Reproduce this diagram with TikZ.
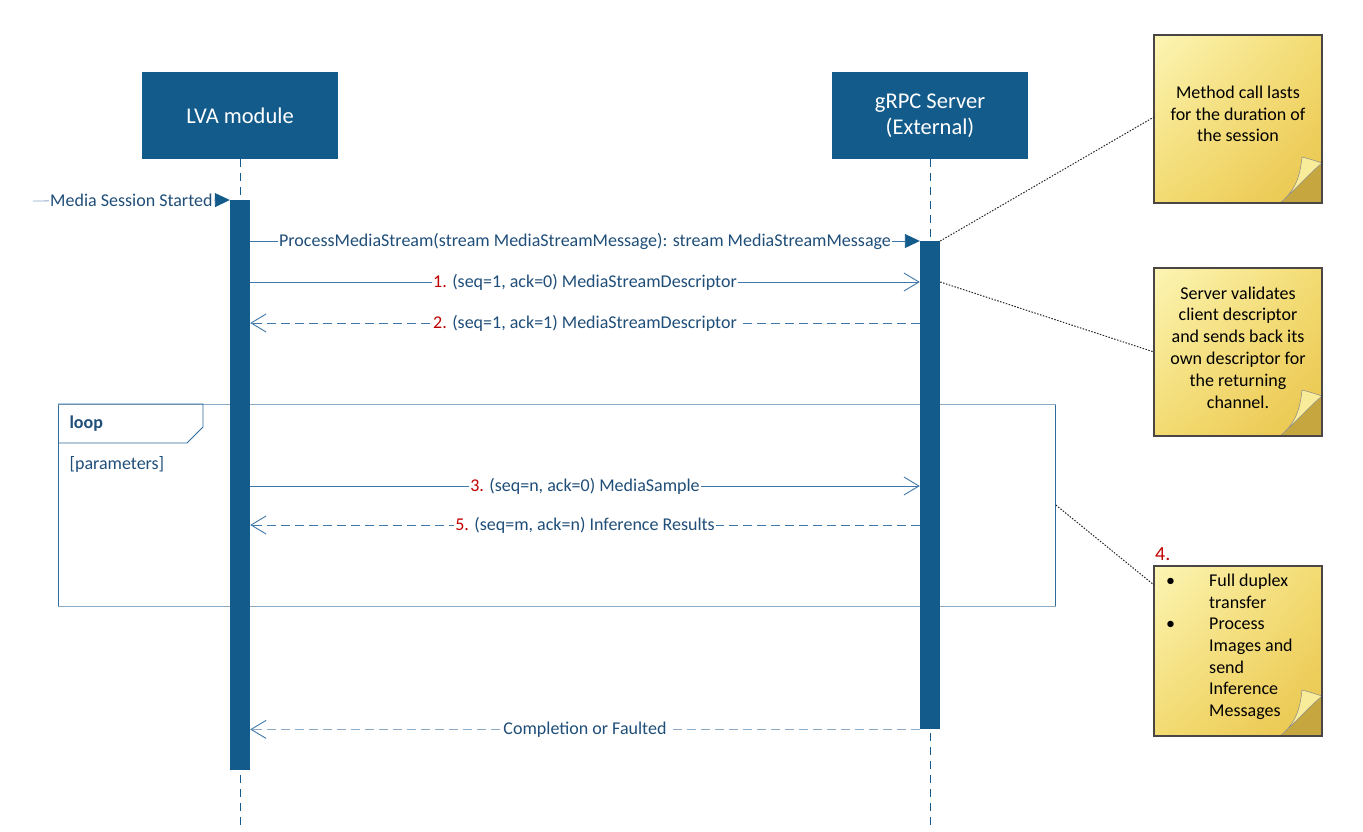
\documentclass[tikz,border=0pt]{standalone}
\usepackage{fontspec}
\setmainfont{Carlito}
\usetikzlibrary{arrows.meta,shadings}
\definecolor{hdr}{HTML}{135B8B}
\definecolor{msgtxt}{HTML}{1F4E79}
\definecolor{msgline}{HTML}{3F78A8}
\definecolor{lightline}{HTML}{8AAAC6}
\definecolor{numred}{HTML}{C00000}
\definecolor{notebd}{HTML}{4A4646}
\definecolor{framecol}{HTML}{2E6C9C}
\definecolor{noteA}{HTML}{FCF5B4}
\definecolor{noteB}{HTML}{E9C44A}
\definecolor{noteC}{HTML}{F3DB72}
\tikzset{
  header/.style={fill=hdr, text=white, minimum width=196pt, minimum height=87pt, inner sep=0pt, align=center, font=\fontsize{22.5}{26}\selectfont},
  lifeline/.style={draw=hdr, line width=0.9pt, dash pattern=on 8pt off 6pt},
  actbar/.style={fill=hdr, minimum width=20pt, inner sep=0pt},
  msg/.style={draw=msgline, line width=0.9pt},
  retmsg/.style={draw=msgline, line width=0.9pt, dash pattern=on 9pt off 5pt},
  lbl/.style={fill=white, text=msgtxt, inner sep=1.5pt, font=\fontsize{18}{21}\selectfont},
  opentip/.style={-{Straight Barb[length=15pt,width=18pt,line width=0.9pt]}},
  conn/.style={draw=black!85, line width=1pt, dash pattern=on 1.5pt off 1.5pt},
  notebox/.style={draw=notebd, line width=2pt, minimum width=168pt, inner sep=0pt, outer sep=0pt,
    path picture={
      \shade[upper left=noteA, lower right=noteB, upper right=noteC, lower left=noteC]
        (path picture bounding box.north west) rectangle (path picture bounding box.south east);
    }},
  notetext/.style={text=black, font=\fontsize{18}{21.8}\selectfont, align=center, inner sep=0pt},
  curlshadow/.style={fill=noteB!85!black},
  curlleaf/.style={fill=noteA!60!noteC, draw=black!45, line width=0.5pt},
  noteborder/.style={draw=notebd, line width=2pt},
}
\newcommand{\mycurl}[1]{%
  \begin{scope}[shift={(#1.south east)}]
    \fill[curlshadow] (-42,0) .. controls (-27,-12) and (-22,-26) .. (-20,-46) -- (0,-40) -- (0,0) -- cycle;
    \path[curlleaf] (-42,0) .. controls (-27,-12) and (-22,-26) .. (-20,-46)
      .. controls (-12,-44) and (-6,-42) .. (0,-40) .. controls (-12,-30) and (-28,-12) .. (-42,0);
  \end{scope}
  \draw[noteborder] (#1.south west) rectangle (#1.north east);}
\begin{document}
\begin{tikzpicture}[x=1pt,y=-1pt]
\useasboundingbox (0,0) rectangle (1363,831);

% loop frame
\node[draw=framecol, line width=0.8pt, minimum width=997pt, minimum height=202pt, inner sep=0pt, anchor=north west] (loop) at (58,404) {};
\draw[draw=lightline, line width=0.8pt] (loop.north west) -- (loop.north east);
\draw[draw=lightline, line width=0.8pt] (loop.south west) -- (loop.south east);
\draw[draw=framecol, line width=0.8pt] (loop.north west) -- (203,404) -- (203,427) -- (187,443) -- (58,443);
\node[anchor=west, text=msgtxt, font=\bfseries\fontsize{18}{21}\selectfont] (looplbl) at (66,424) {loop};
\node[anchor=west, text=msgtxt, font=\fontsize{18}{21}\selectfont] (guard) at (66,464) {[parameters]};

% headers
\node[header] (lva) at (240,115.5) {LVA module};
\node[header] (grpc) at (930,115.5) {gRPC Server\\(External)};

% lifelines
\coordinate (lvaend) at (240,831);
\coordinate (grpcend) at (930,831);
\draw[lifeline] (lva.south) -- (lvaend);
\draw[lifeline] (grpc.south) -- (grpcend);

% activation bars
\node[actbar, minimum height=570pt, anchor=north] (lvaact) at (240,200) {};
\node[actbar, minimum height=488pt, anchor=north] (grpcact) at (930,241) {};

% found message
\coordinate (found) at (33,201);
\draw[draw=lightline, line width=0.9pt, -{Triangle[length=15pt,width=14pt,fill=hdr,color=hdr]}] (found) -- (lvaact.north west)
  node[lbl, midway] {Media Session Started};

% messages
\draw[msg, -{Triangle[length=15pt,width=14pt,fill=hdr,color=hdr]}] (lvaact.east |- grpcact.north) -- (grpcact.north west)
  node[lbl, midway] {ProcessMediaStream(stream MediaStreamMessage): stream MediaStreamMessage};
\draw[msg, opentip] (lvaact.east |- 0,282) -- (grpcact.west |- 0,282)
  node[lbl, midway] {\textcolor{numred}{1.} (seq=1, ack=0) MediaStreamDescriptor};
\draw[retmsg, opentip] (grpcact.west |- 0,323) -- (lvaact.east |- 0,323)
  node[lbl, midway] {\textcolor{numred}{2.} (seq=1, ack=1) MediaStreamDescriptor};
\draw[msg, opentip] (lvaact.east |- 0,486) -- (grpcact.west |- 0,486)
  node[lbl, midway] {\textcolor{numred}{3.} (seq=n, ack=0) MediaSample};
\draw[retmsg, opentip] (grpcact.west |- 0,525) -- (lvaact.east |- 0,525)
  node[lbl, midway] {\textcolor{numred}{5.} (seq=m, ack=n) Inference Results};
\draw[retmsg, draw=lightline, -{Straight Barb[length=15pt,width=18pt,line width=0.9pt,color=msgline]}] (grpcact.south west) -- (lvaact.east |- grpcact.south)
  node[lbl, midway] {Completion or Faulted};

% notes
\node[notebox, minimum height=168pt, anchor=north west] (n1) at (1154,35) {};
\mycurl{n1}
\node[notetext] (n1txt) at (1238,114) {Method call lasts\\for the duration of\\the session};

\node[notebox, minimum height=168pt, anchor=north west] (n2) at (1154,268) {};
\mycurl{n2}
\node[notetext] (n2txt) at (1238,347.5) {Server validates\\client descriptor\\and sends back its\\own descriptor for\\the returning\\channel.};

\node[notebox, minimum height=170pt, anchor=north west] (n3) at (1154,566) {};
\mycurl{n3}
\node[anchor=north west, inner sep=0pt, font=\fontsize{18}{21.7}\selectfont] (n3txt) at (1166,571)
  {\def\arraystretch{1}\begin{tabular}{@{}p{43pt}@{}l@{}}
  \textbullet & Full duplex\\ & transfer\\ \textbullet & Process\\ & Images and\\ & send\\ & Inference\\ & Messages
  \end{tabular}};
\node[anchor=south west, text=numred, inner sep=0pt, font=\fontsize{20}{22}\selectfont] (four) at (1155,561) {4.};

% note connectors
\draw[conn] (grpcact.north east) -- (n1.west |- 0,117);
\draw[conn] (grpcact.east |- 0,282) -- (n2.west |- 0,352);
\draw[conn] (loop.east |- 0,505) -- (n3.west |- 0,585);
\end{tikzpicture}
\end{document}
